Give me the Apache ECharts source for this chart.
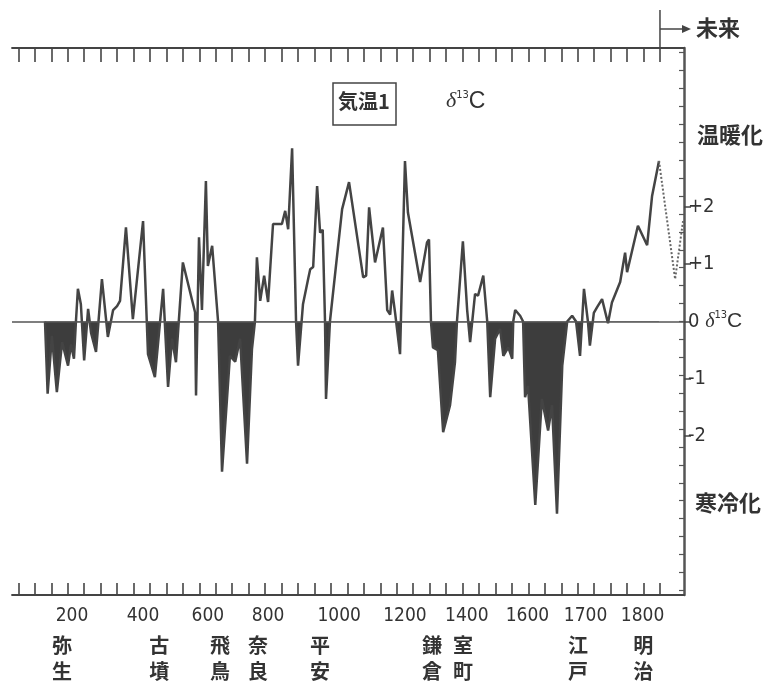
<!DOCTYPE html>
<html>
<head>
<meta charset="utf-8">
<script src="https://cdn.jsdelivr.net/npm/echarts@6/dist/echarts.min.js"></script>
<style>
html, body { margin: 0; padding: 0; background: #fff; }
#chart { width: 772px; height: 684px; }
</style>
</head>
<body>
<div id="chart"></div>
<script>
// 年（図の目盛り位置）と δ13C の偏差
var years = [131,139,152,167,183,201,210,219,225,231,
  240,250,262,271,286,304,322,338,350,359,
  377,398,429,444,465,490,505,517,529,550,
  587,590,599,608,620,626,639,657,669,693,
  709,724,745,760,769,775,785,797,809,824,
  851,861,870,882,894,900,915,931,937,946,
  958,967,975,982,985,997,1034,1055,1098,1107,
  1116,1134,1158,1171,1180,1186,1195,1210,1225,1234,
  1271,1292,1298,1304,1310,1325,1341,1362,1377,1383,
  1401,1414,1423,1438,1447,1463,1475,1484,1499,1514,
  1524,1539,1551,1554,1560,1575,1584,1590,1599,1621,
  1641,1660,1672,1687,1703,1718,1733,1745,1757,1769,
  1781,1787,1799,1809,1824,1842,1854,1879,1894,1900,
  1933,1961,1976,1997];
var values = [0,-1.26,-0.25,-1.23,-0.36,-0.77,-0.4,-0.65,0,0.57,
  0.3,-0.68,0.22,-0.2,-0.53,0.74,-0.27,0.2,0.27,0.36,
  1.64,0.04,1.75,-0.57,-0.97,0.57,-1.14,-0.3,-0.71,1.03,
  0.16,-1.29,1.47,0.2,2.45,0.97,1.32,0,-2.62,-0.6,
  -0.7,-0.3,-2.48,-0.48,0,1.12,0.36,0.8,0.34,1.7,
  1.7,1.93,1.61,3.02,0,-0.77,0.3,0.75,0.91,0.95,
  2.36,1.55,1.6,0,-1.35,0,1.96,2.43,0.77,0.8,
  1.99,1.03,1.64,0.2,0.12,0.54,0.15,-0.57,2.8,1.9,
  0.69,1.38,1.43,0,-0.45,-0.5,-1.93,-1.46,-0.71,0,
  1.4,0.2,-0.36,0.48,0.45,0.8,0,-1.32,-0.3,-0.13,
  -0.6,-0.45,-0.65,0,0.2,0.1,0,-1.32,-1.12,-3.2,
  -1.35,-1.9,-1.46,-3.35,-0.77,0,0.1,0,-0.6,0.57,
  0,-0.42,0.15,0.25,0.39,-0.03,0.33,0.69,1.2,0.86,
  1.67,1.33,2.19,2.8];
// 点線部分（未来）
var futureYears = [1997, 2046, 2070];
var futureValues = [2.8, 0.74, 1.75];

// 下の目盛りラベル（印刷どおりの位置）
var yearLabels = ['200','400','600','800','1000','1200','1400','1600','1700','1800'];
var yearLabelPos = [213,429,626,809,1025,1225,1413,1597,1774,1947];
// 時代名
var periodLabels = ['弥\n生','古\n墳','飛\n鳥','奈\n良','平\n安','鎌\n倉','室\n町','江\n戸','明\n治'];
var periodPos = [183,478,663,778,967,1307,1401,1751,1949];
// 右軸
var deltaTicks = [-2,-1,0,1,2];
var deltaLabels = ['-2','-1','0 {d|δ}{s|13}{c|C}','+1','+2'];

var xMin = 30.7, xMax = 2073, yMin = -4.77, yMax = 4.77;
var presentYear = 2000;

var tickYears = [];
for (var t = 50; t <= 2000; t += 50) tickYears.push(t);
var minorTicks = [];
for (var k = -15; k <= 15; k++) minorTicks.push(k * 0.3125);

var lineColor = '#444';
var fillColor = '#3d3d3d';
var numFont = "'Liberation Sans Narrow', 'DejaVu Sans Condensed', 'Liberation Sans', sans-serif";
var cjkFont = "'Noto Sans CJK JP', sans-serif";

var mainData = years.map(function (y, i) { return [y, values[i]]; });
var futureData = futureYears.map(function (y, i) { return [y, futureValues[i]]; });

var chart = echarts.init(document.getElementById('chart'));

function areaFill(y0) {
  var z = y0 / 684;
  return new echarts.graphic.LinearGradient(0, 0, 0, 684, [
    { offset: 0, color: 'rgba(0,0,0,0)' },
    { offset: z, color: 'rgba(0,0,0,0)' },
    { offset: z, color: fillColor },
    { offset: 1, color: fillColor }
  ], true);
}

var option = {
  backgroundColor: '#fff',
  animation: false,
  grid: { left: 12, right: 88, top: 48, bottom: 87 },
  xAxis: [
    {
      type: 'value', position: 'bottom', min: xMin, max: xMax,
      axisLine: { show: true, onZero: false, lineStyle: { color: '#444', width: 1.8 } },
      axisTick: { show: true, inside: true, length: 12, customValues: tickYears,
        lineStyle: { color: '#444', width: 1.6 } },
      axisLabel: {
        customValues: yearLabelPos, margin: 12, fontSize: 19, color: '#333', fontFamily: numFont,
        formatter: function (v) { return yearLabels[yearLabelPos.indexOf(v)] || ''; }
      },
      splitLine: { show: false }
    },
    {
      type: 'value', position: 'top', min: xMin, max: xMax,
      axisLine: { show: true, onZero: false, lineStyle: { color: '#444', width: 1.8 } },
      axisTick: { show: true, inside: true, length: 14, customValues: tickYears,
        lineStyle: { color: '#444', width: 1.6 } },
      axisLabel: { show: false },
      splitLine: { show: false }
    },
    {
      type: 'value', position: 'bottom', min: xMin, max: xMax,
      axisLine: { show: false, onZero: false }, axisTick: { show: false },
      axisLabel: {
        customValues: periodPos, margin: 37, fontSize: 20, lineHeight: 26,
        fontWeight: 'bold', color: '#333', fontFamily: cjkFont,
        formatter: function (v) { return periodLabels[periodPos.indexOf(v)] || ''; }
      },
      splitLine: { show: false }
    }
  ],
  yAxis: [
    {
      type: 'value', position: 'right', min: yMin, max: yMax,
      axisLine: { show: true, onZero: false, lineStyle: { color: '#555', width: 2.5 } },
      axisTick: { show: true, inside: false, length: 7, customValues: deltaTicks,
        lineStyle: { color: '#444', width: 1.5 } },
      axisLabel: {
        customValues: deltaTicks, margin: 4, fontSize: 20, color: '#333', fontFamily: numFont,
        formatter: function (v) { return deltaLabels[deltaTicks.indexOf(v)] || ''; },
        rich: {
          d: { fontSize: 20, fontStyle: 'italic', fontFamily: "'Liberation Serif', serif", color: '#333' },
          s: { fontSize: 11, color: '#333', fontFamily: numFont, verticalAlign: 'top', padding: [0, 0, 12, 0] },
          c: { fontSize: 21, color: '#333', fontFamily: "'Liberation Sans', sans-serif" }
        }
      },
      splitLine: { show: false }
    },
    {
      type: 'value', position: 'right', min: yMin, max: yMax,
      axisLine: { show: false, onZero: false },
      axisTick: { show: true, inside: true, length: 5, customValues: minorTicks,
        lineStyle: { color: '#555', width: 1.2 } },
      axisLabel: { show: false },
      splitLine: { show: false }
    }
  ],
  series: [
    {
      type: 'line', xAxisIndex: 0, yAxisIndex: 0,
      data: mainData, showSymbol: false, smooth: false,
      lineStyle: { color: lineColor, width: 2.5 },
      areaStyle: { color: areaFill(322.5), opacity: 1 },
      markLine: {
        silent: true, symbol: 'none', label: { show: false },
        lineStyle: { color: '#555', width: 1.5, type: 'solid' },
        data: [{ yAxis: 0 }]
      },
      z: 3
    },
    {
      type: 'line', xAxisIndex: 0, yAxisIndex: 0,
      data: futureData, showSymbol: false,
      lineStyle: { color: '#666', width: 2, type: 'dotted' },
      z: 3
    }
  ]
};

chart.setOption(option);

var y0 = chart.convertToPixel({ yAxisIndex: 0 }, 0);
var xNow = chart.convertToPixel({ xAxisIndex: 0 }, presentYear);

chart.setOption({
  series: [{ areaStyle: { color: areaFill(y0) } }],
  graphic: [
    { type: 'line', shape: { x1: xNow, y1: 10, x2: xNow, y2: 48 }, style: { stroke: '#444', lineWidth: 1.5 } },
    { type: 'line', shape: { x1: xNow, y1: 29, x2: xNow + 26, y2: 29 }, style: { stroke: '#444', lineWidth: 1.5 } },
    { type: 'polygon', shape: { points: [[xNow + 31, 29], [xNow + 22, 25], [xNow + 22, 33]] }, style: { fill: '#444' } },
    { type: 'text', left: xNow + 36, top: 17, style: { text: '未来', font: "bold 22px 'Noto Sans CJK JP', sans-serif", fill: '#333' } },
    { type: 'text', left: 697, top: 124, style: { text: '温暖化', font: "bold 22px 'Noto Sans CJK JP', sans-serif", fill: '#333' } },
    { type: 'text', left: 695, top: 492, style: { text: '寒冷化', font: "bold 22px 'Noto Sans CJK JP', sans-serif", fill: '#333' } },
    { type: 'rect', shape: { x: 333, y: 83, width: 63, height: 42 }, style: { fill: '#fff', stroke: '#444', lineWidth: 1.5 } },
    { type: 'text', left: 338, top: 91, style: { text: '気温1', font: "bold 20px 'Noto Sans CJK JP', sans-serif", fill: '#333' } },
    { type: 'text', left: 446, top: 90, style: {
        text: '{d|δ}{s|13}{c|C}',
        rich: {
          d: { fontSize: 22, fontStyle: 'italic', fontFamily: "'Liberation Serif', serif", fill: '#333' },
          s: { fontSize: 11, fill: '#333', fontFamily: numFont, verticalAlign: 'top', padding: [0, 0, 12, 0] },
          c: { fontSize: 23, fill: '#333', fontFamily: "'Liberation Sans', sans-serif" }
        }
      } }
  ]
});
</script>
</body>
</html>
